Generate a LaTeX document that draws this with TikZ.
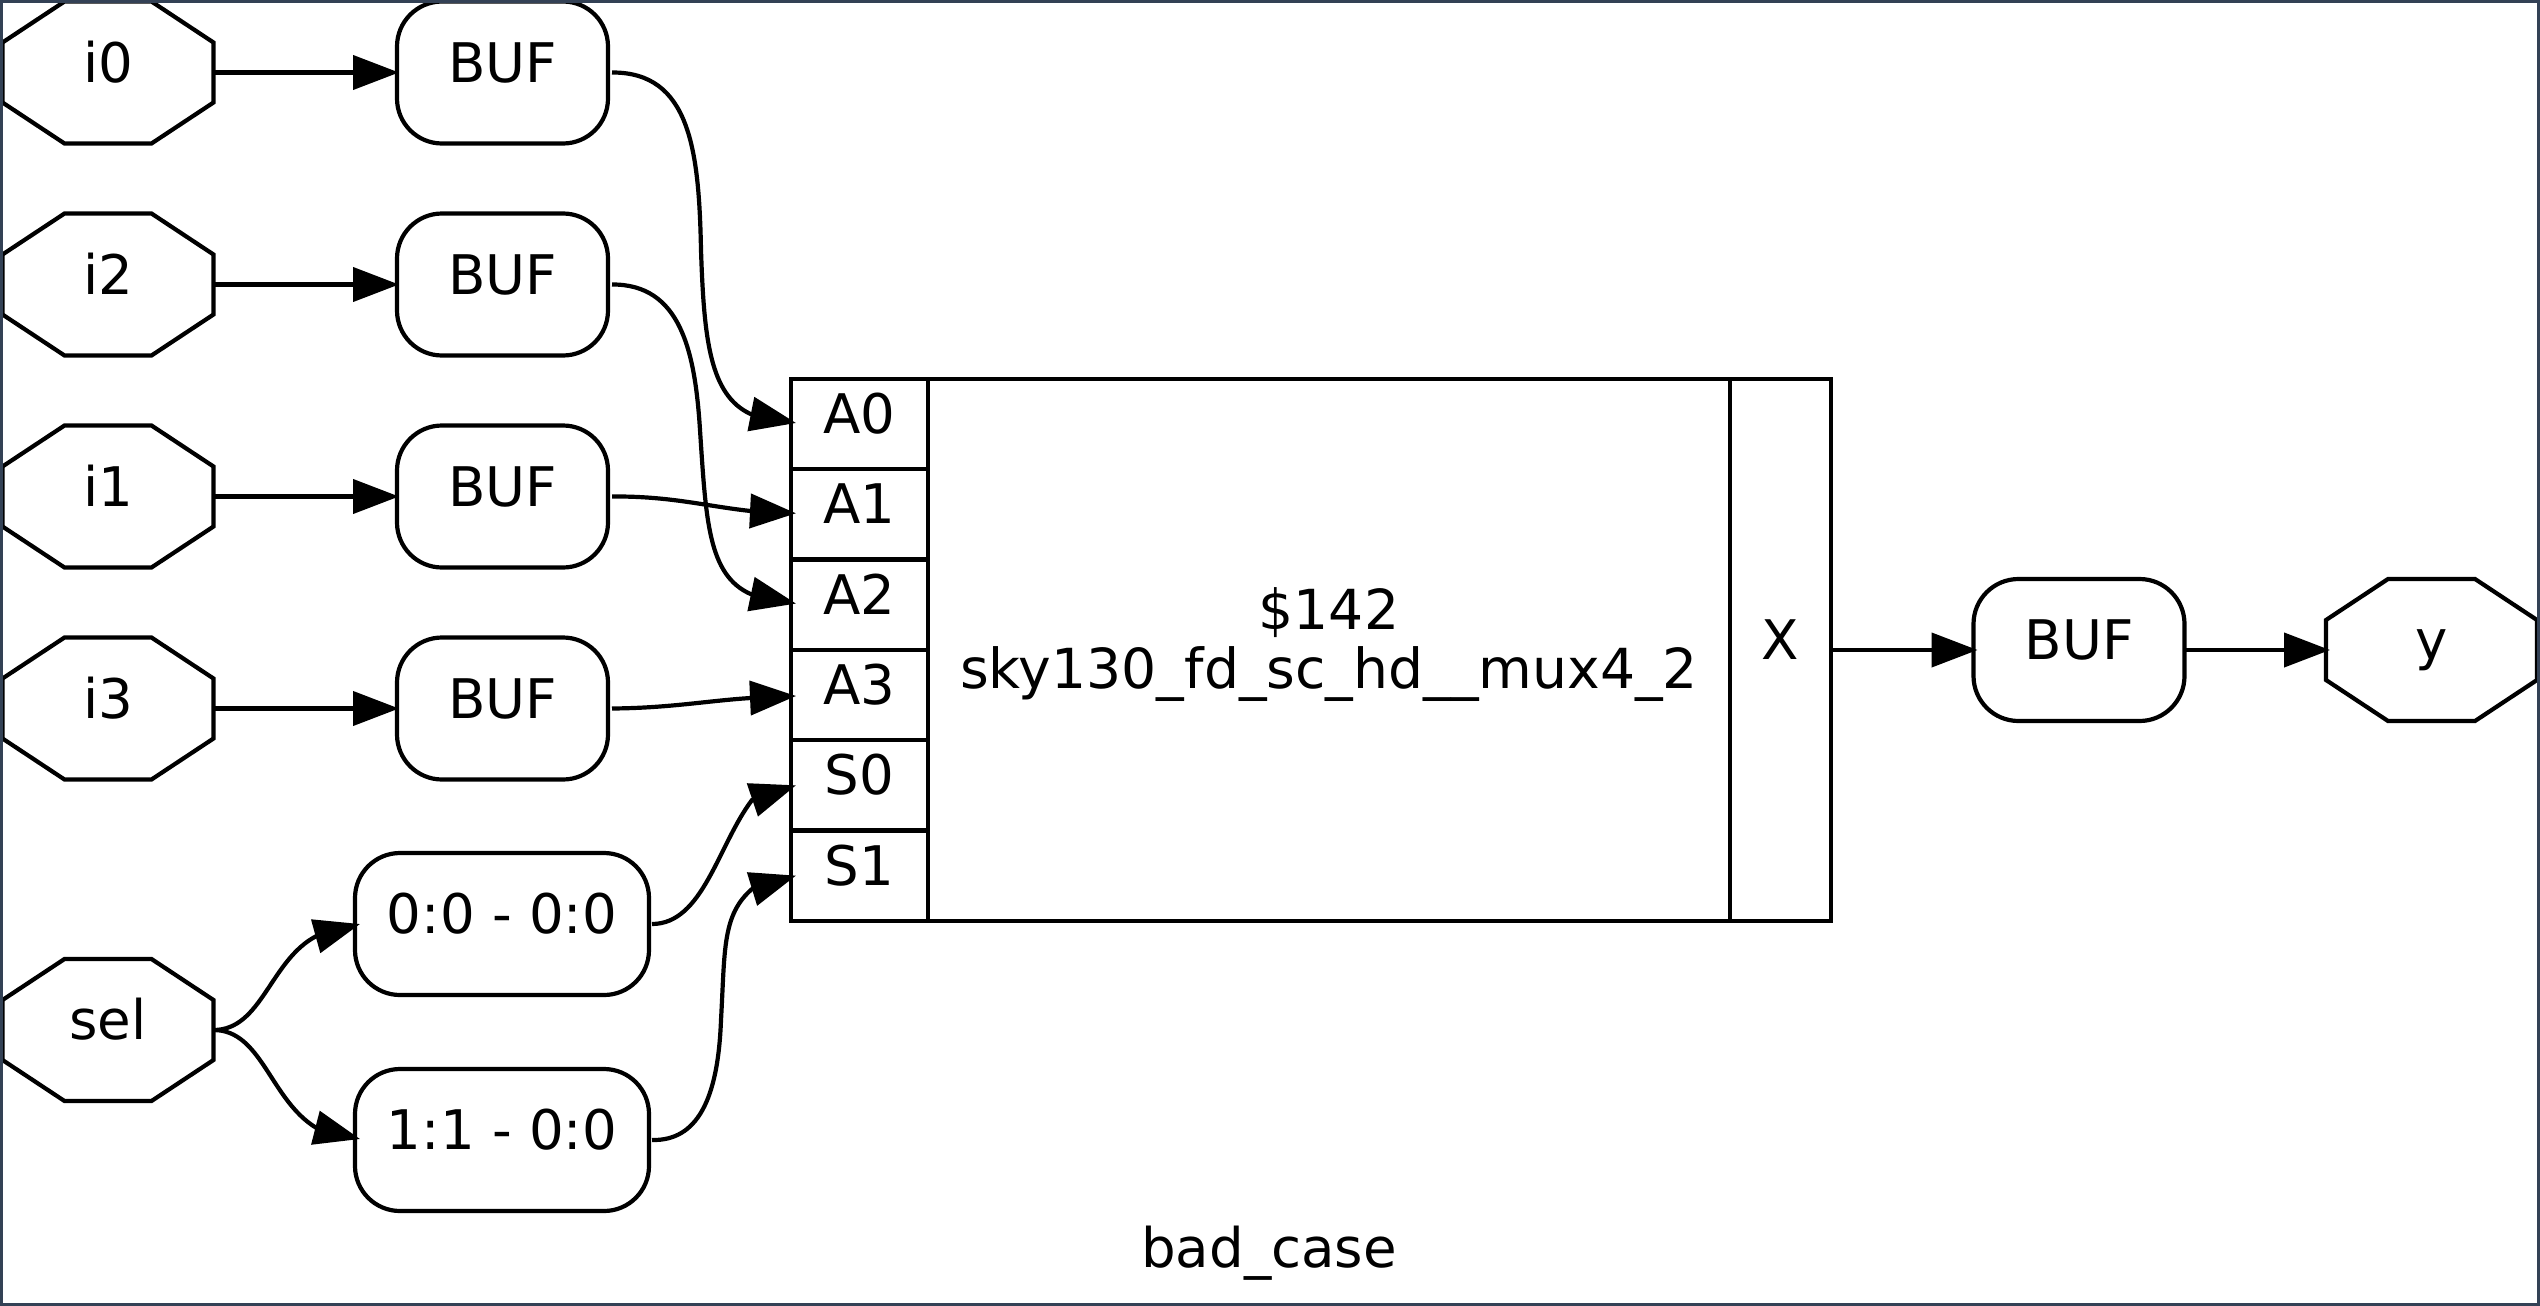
\documentclass[tikz,border=0pt]{standalone}
\usepackage{fontspec}
\setmainfont{DejaVu Sans}
\usetikzlibrary{arrows.meta}
\definecolor{framecol}{HTML}{334155}
\tikzset{
  px/.style={x=1pt,y=-1pt},
  wire/.style={line width=4.2pt,black,line join=miter},
  arrowwire/.style={wire,-{Triangle[length=46pt,width=34pt]}},
  labelled/.style={inner sep=0pt,outer sep=0pt,align=center,text height=30pt,text depth=11pt,
    font=\fontsize{54.6pt}{60pt}\selectfont},
  octbox/.style={labelled,minimum width=211pt,minimum height=142pt},
  bufbox/.style={labelled,wire,draw,rounded corners=45pt,minimum height=142pt},
  portbox/.style={labelled,wire,draw,minimum width=137pt,minimum height=90.4pt},
}
\newcommand{\octnode}[4]{%
  \node[octbox] (#1) at (#2,#3) {#4};
  \draw[wire] ([xshift=62pt]#1.north west) -- ([xshift=-62pt]#1.north east)
    -- ([yshift=-41pt]#1.north east) -- ([yshift=41pt]#1.south east)
    -- ([xshift=-62pt]#1.south east) -- ([xshift=62pt]#1.south west)
    -- ([yshift=41pt]#1.south west) -- ([yshift=-41pt]#1.north west) -- cycle;
}
\begin{document}
\begin{tikzpicture}[px]
\useasboundingbox (0,0) rectangle (2540,1306);
\fill[white] (0,0) rectangle (2540,1306);

\octnode{i0}{108}{72.5}{i0}
\octnode{i2}{108}{284.5}{i2}
\octnode{i1}{108}{496.5}{i1}
\octnode{i3}{108}{708.5}{i3}
\octnode{sel}{108}{1030}{sel}
\octnode{y}{2431.5}{650}{y}

\node[bufbox,minimum width=211pt] (b0) at (502.5,72.5) {BUF};
\node[bufbox,minimum width=211pt] (b2) at (502.5,284.5) {BUF};
\node[bufbox,minimum width=211pt] (b1) at (502.5,496.5) {BUF};
\node[bufbox,minimum width=211pt] (b3) at (502.5,708.5) {BUF};
\node[bufbox,minimum width=294pt] (s0) at (502,924) {0:0 - 0:0};
\node[bufbox,minimum width=294pt] (s1) at (502,1140) {1:1 - 0:0};
\node[bufbox,minimum width=211pt] (bo) at (2079,650) {BUF};

\node[portbox] (pA0) at (859.5,424) {A0};
\node[portbox] (pA1) at (859.5,514.3) {A1};
\node[portbox] (pA2) at (859.5,604.6) {A2};
\node[portbox] (pA3) at (859.5,695) {A3};
\node[portbox] (pS0) at (859.5,785.3) {S0};
\node[portbox] (pS1) at (859.5,875.6) {S1};
\node[labelled,wire,draw,minimum width=802pt,minimum height=542pt,text height=88pt,
  font=\fontsize{55.2pt}{59pt}\selectfont] (core) at (1329,650)
  {\$142\\sky130\_fd\_sc\_hd\_\_mux4\_2};
\node[labelled,wire,draw,minimum width=101pt,minimum height=542pt] (pX) at (1780.5,650) {X};

\node[labelled] (title) at (1269,1258) {bad\_case};

% straight connectors
\draw[arrowwire] (i0.east) -- ([xshift=2pt]b0.west);
\draw[arrowwire] (i2.east) -- ([xshift=2pt]b2.west);
\draw[arrowwire] (i1.east) -- ([xshift=2pt]b1.west);
\draw[arrowwire] (i3.east) -- ([xshift=2pt]b3.west);
\draw[arrowwire] (pX.east) -- ([xshift=4pt]bo.west);
\draw[arrowwire] (bo.east) -- ([xshift=4pt]y.west);

% select fan-out
\draw[arrowwire] (sel.east) .. controls (262,1030) and (270,960) .. (316.5,936) -- ([xshift=5pt]s0.west);
\draw[arrowwire] (sel.east) .. controls (262,1030) and (270,1100) .. (316.5,1128) -- ([xshift=5pt,yshift=1pt]s1.west);

% buffers to mux
\draw[arrowwire] ([xshift=4pt]b0.east) .. controls (690,72) and (699,150) .. (701,250)
  .. controls (704,340) and (710,395) .. (750.5,414) -- ([xshift=5pt,yshift=1pt]pA0.west);
\draw[arrowwire] ([xshift=4pt]b2.east) .. controls (680,284) and (695,350) .. (700,430)
  .. controls (706,520) and (708,575) .. (750.5,594) -- ([xshift=5pt,yshift=1pt]pA2.west);
\draw[arrowwire] ([xshift=4pt]b1.east) .. controls (670,496) and (705,506) .. (750.5,511) -- ([xshift=5pt,yshift=1pt]pA1.west);
\draw[arrowwire] ([xshift=4pt]b3.east) .. controls (670,708) and (705,701) .. (750.5,698) -- ([xshift=5pt,yshift=-1pt]pA3.west);
\draw[arrowwire] ([xshift=3pt]s0.east) .. controls (703,924) and (718,845) .. (752,800) -- ([xshift=5pt]pS0.west);
\draw[arrowwire] ([xshift=3pt]s1.east) .. controls (697,1141) and (718,1100) .. (721,1020)
  .. controls (725,950) and (722,915) .. (752,889) -- ([xshift=5pt]pS1.west);

\draw[framecol,line width=2.6pt] (1.3,1.3) rectangle (2538.7,1304.7);
\end{tikzpicture}
\end{document}
